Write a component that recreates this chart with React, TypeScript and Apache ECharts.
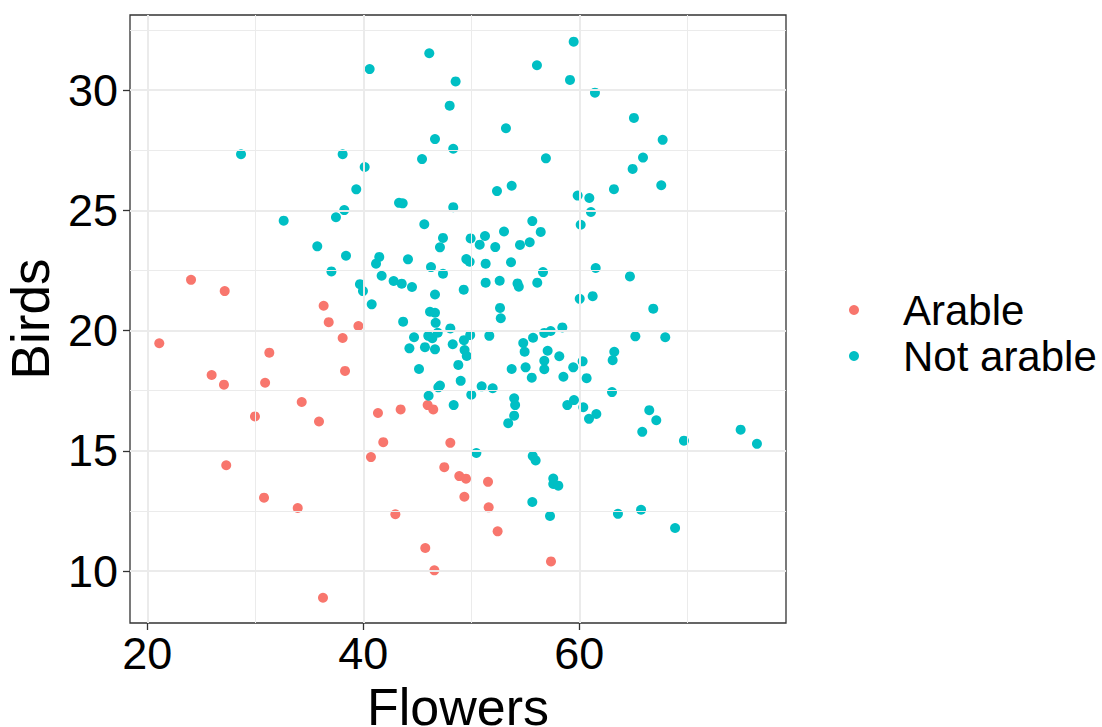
import React, { useEffect, useRef } from "react";
import * as echarts from "echarts";

const seriesNames = ["Arable", "Not arable"];
const seriesColors = ["#F8766D", "#00BFC4"];

const arable: number[][] = [
  [21.11, 19.47], [24.05, 22.11], [25.96, 18.15], [27.1, 17.75], [27.17, 21.64],
  [27.31, 14.4], [29.97, 16.43], [30.81, 13.05], [30.91, 17.83], [31.3, 19.08],
  [33.93, 12.62], [34.3, 17.03], [35.9, 16.22], [36.27, 8.89], [36.33, 21.03],
  [36.8, 20.35], [38.09, 19.69], [38.31, 18.32], [39.55, 20.19], [40.71, 14.74],
  [41.36, 16.57], [41.85, 15.36], [42.97, 12.36], [43.46, 16.72], [45.74, 10.96],
  [45.96, 16.9], [46.48, 16.72], [46.58, 10.03], [47.5, 14.32], [48.06, 15.33],
  [48.89, 13.95], [49.36, 13.09], [49.51, 13.84], [51.55, 13.71], [51.61, 12.65],
  [52.44, 11.65], [57.38, 10.4],
];

const notArable: number[][] = [
  [28.68, 27.33], [32.63, 24.57], [35.74, 23.5], [37.05, 22.46], [37.47, 24.71],
  [38.09, 27.33], [38.24, 25.01], [38.4, 23.11], [39.35, 25.87], [39.69, 21.93],
  [39.97, 21.64], [40.13, 26.8], [40.59, 30.87], [40.78, 21.09], [41.18, 22.78],
  [41.48, 23.06], [41.7, 22.28], [42.81, 22.06], [43.31, 25.31], [43.56, 21.95],
  [43.65, 25.29], [43.69, 20.37], [44.14, 22.96], [44.27, 19.26], [44.51, 21.81],
  [44.7, 19.72], [45.16, 18.4], [45.44, 27.13], [45.65, 24.42], [45.71, 19.31],
  [46.02, 19.78], [46.05, 17.29], [46.11, 31.53], [46.18, 20.78], [46.27, 22.64],
  [46.39, 19.68], [46.64, 27.96], [46.64, 21.5], [46.64, 20.74], [46.64, 19.22],
  [46.7, 20.32], [46.89, 19.91], [46.95, 17.64], [47.1, 23.46], [47.1, 17.71],
  [47.38, 23.85], [47.38, 22.36], [48.0, 29.35], [48.06, 20.09], [48.28, 19.43],
  [48.33, 27.56], [48.33, 25.13], [48.37, 16.9], [48.55, 30.36], [48.8, 18.57],
  [49.02, 17.91], [49.3, 21.7], [49.32, 19.6], [49.38, 19.19], [49.54, 22.97],
  [49.58, 18.94], [49.85, 22.86], [49.9, 19.81], [49.94, 23.83], [50.0, 17.33],
  [50.47, 14.91], [50.78, 23.57], [50.96, 17.68], [51.27, 23.93], [51.33, 22.78],
  [51.33, 21.99], [51.67, 19.78], [51.98, 17.6], [52.22, 23.47], [52.38, 25.8],
  [52.63, 22.07], [52.66, 20.94], [52.73, 20.51], [53.03, 24.12], [53.21, 28.41],
  [53.42, 16.15], [53.68, 22.84], [53.74, 26.02], [53.74, 18.4], [53.97, 17.18],
  [53.97, 16.46], [54.06, 16.9], [54.28, 21.96], [54.4, 21.82], [54.51, 23.56],
  [54.81, 19.48], [54.94, 19.12], [55.03, 18.47], [55.41, 23.67], [55.6, 18.04],
  [55.65, 24.55], [55.65, 12.87], [55.69, 14.78], [55.72, 19.7], [55.96, 14.6],
  [56.08, 31.03], [56.11, 21.99], [56.43, 24.1], [56.64, 22.43], [56.76, 19.9],
  [56.76, 18.74], [56.76, 18.39], [56.91, 27.16], [57.07, 19.16], [57.29, 12.29],
  [57.35, 19.98], [57.59, 13.85], [57.59, 13.62], [58.06, 13.55], [58.15, 18.93],
  [58.43, 20.13], [58.53, 18.08], [58.89, 16.9], [59.14, 30.42], [59.44, 18.47],
  [59.48, 32.01], [59.51, 17.11], [59.85, 25.61], [60.04, 21.32], [60.13, 24.4],
  [60.31, 18.72], [60.37, 16.81], [60.68, 18.02], [60.9, 16.33], [60.93, 25.51],
  [61.08, 24.93], [61.24, 21.43], [61.45, 29.89], [61.52, 22.6], [61.58, 16.53],
  [63.03, 17.44], [63.09, 18.77], [63.21, 25.88], [63.24, 19.12], [63.58, 12.38],
  [64.69, 22.25], [64.94, 26.72], [65.06, 28.84], [65.19, 19.76], [65.72, 12.55],
  [65.83, 15.79], [65.9, 27.19], [66.48, 16.69], [66.85, 20.91], [67.13, 16.27],
  [67.59, 26.04], [67.72, 27.93], [67.96, 19.72], [68.87, 11.79], [69.69, 15.42],
  [74.94, 15.88], [76.45, 15.29],
];

const xTicks = [20, 40, 60];
const xMinor = [30, 50, 70];
const yTicks = [10, 15, 20, 25, 30];
const yMinor = [12.5, 17.5, 22.5, 27.5, 32.5];
const xRange = [18.4, 79.14];
const yRange = [7.84, 33.12];

const FONT = "'Liberation Sans', Arial, sans-serif";
const GRID_COLOR = "#EBEBEB";

export default function App() {
  const ref = useRef<HTMLDivElement>(null);
  useEffect(() => {
    if (!ref.current) return;
    const chart = echarts.init(ref.current, null, { renderer: "svg" });
    const gridLines = [
      ...xTicks.map((v) => ({ xAxis: v, lineStyle: { width: 2 } })),
      ...xMinor.map((v) => ({ xAxis: v, lineStyle: { width: 1 } })),
      ...yTicks.map((v) => ({ yAxis: v, lineStyle: { width: 2 } })),
      ...yMinor.map((v) => ({ yAxis: v, lineStyle: { width: 1 } })),
    ];
    chart.setOption({
      animation: false,
      backgroundColor: "#ffffff",
      textStyle: { fontFamily: FONT },
      grid: {
        left: 130,
        top: 15,
        right: 316,
        bottom: 104,
        containLabel: false,
        outerBoundsMode: "none",
        show: true,
        borderColor: "#333333",
        borderWidth: 1.3,
        backgroundColor: "#ffffff",
      },
      legend: {
        data: seriesNames,
        orient: "vertical",
        left: 849,
        top: 287,
        padding: 0,
        itemWidth: 88,
        itemHeight: 10,
        itemGap: 0,
        icon: "circle",
        textStyle: {
          fontSize: 42,
          lineHeight: 46,
          color: "#000",
          fontFamily: FONT,
        },
      },
      xAxis: {
        type: "value",
        min: xRange[0],
        max: xRange[1],
        name: "Flowers",
        nameLocation: "middle",
        nameGap: 48,
        nameTextStyle: { fontSize: 52, lineHeight: 40, color: "#000", fontFamily: FONT },
        axisLine: { show: false },
        splitLine: { show: false },
        axisTick: { show: true, length: 7, customValues: xTicks, lineStyle: { color: "#333333", width: 1.3 } },
        axisLabel: { customValues: xTicks, fontSize: 45, color: "#000", margin: 8, fontFamily: FONT },
      },
      yAxis: {
        type: "value",
        min: yRange[0],
        max: yRange[1],
        name: "Birds",
        nameLocation: "middle",
        nameGap: 71,
        nameRotate: 90,
        nameTextStyle: { fontSize: 53, color: "#000", fontFamily: FONT },
        axisLine: { show: false },
        splitLine: { show: false },
        axisTick: { show: true, length: 7, customValues: yTicks, lineStyle: { color: "#333333", width: 1.3 } },
        axisLabel: { customValues: yTicks, fontSize: 45, color: "#000", margin: 12, fontFamily: FONT },
      },
      series: [
        {
          name: "gridlines",
          type: "scatter",
          data: [],
          z: 1,
          silent: true,
          markLine: {
            silent: true,
            symbol: ["none", "none"],
            label: { show: false },
            lineStyle: { color: GRID_COLOR, type: "solid" },
            data: gridLines,
          },
        },
        {
          name: seriesNames[0],
          type: "scatter",
          data: arable,
          symbolSize: 10,
          z: 3,
          itemStyle: { color: seriesColors[0], opacity: 1 },
        },
        {
          name: seriesNames[1],
          type: "scatter",
          data: notArable,
          symbolSize: 10,
          z: 3,
          itemStyle: { color: seriesColors[1], opacity: 1 },
        },
      ],
    });
    return () => chart.dispose();
  }, []);
  return (
    <div
      ref={ref}
      style={{ position: "fixed", left: 0, top: 0, width: 1102, height: 727, background: "#fff" }}
    />
  );
}
